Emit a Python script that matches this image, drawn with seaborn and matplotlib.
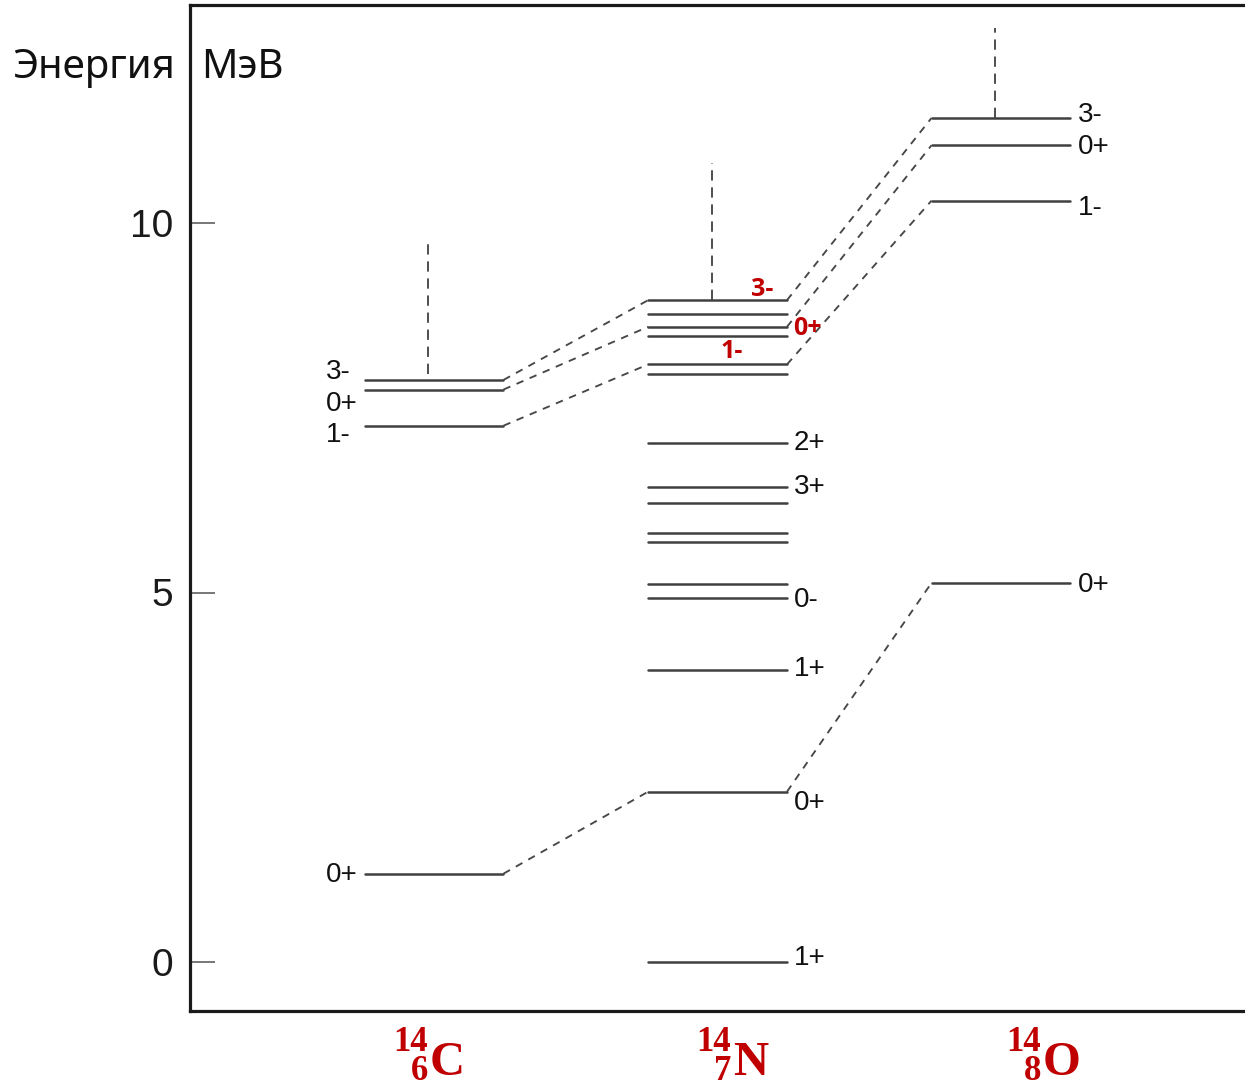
import numpy as np
import pandas as pd
import matplotlib
matplotlib.use("Agg")
import matplotlib.pyplot as plt
import seaborn as sns

# ---------------- data ----------------
nuclides = ["C", "N", "O"]
col_pos = [0.0, 1.0, 2.0]
half_width = 0.245

c_levels = [1.19, 7.26, 7.75, 7.88]
n_levels = [0.0, 2.30, 3.95, 4.92, 5.11, 5.68, 5.81, 6.21, 6.43, 7.03,
            7.96, 8.09, 8.48, 8.60, 8.77, 8.96]
o_levels = [5.13, 10.31, 11.06, 11.43]

# analog states (C -> N -> O) joined by dashed lines
analog_c = [1.19, 7.26, 7.75, 7.88]
analog_n = [2.30, 8.09, 8.60, 8.96]
analog_o = [5.13, 10.31, 11.06, 11.43]

# thresholds (vertical dashed lines): start energy, end energy
thr_start = [7.96, 8.96, 11.43]
thr_end = [9.78, 10.82, 12.65]

# spin-parity labels and the energies where they are written
c_lab = ["3-", "0+", "1-", "0+"]
c_lab_e = [7.99, 7.56, 7.14, 1.17]
n_lab = ["2+", "3+", "0-", "1+", "0+", "1+"]
n_lab_e = [7.03, 6.43, 4.90, 3.97, 2.15, 0.05]
o_lab = ["3-", "0+", "1-", "0+"]
o_lab_e = [11.47, 11.04, 10.21, 5.10]

# red highlighted labels (14N analog states)
red_lab = ["3-", "0+", "1-"]
red_lab_x = [1.157, 1.319, 1.051]
red_lab_e = [9.11, 8.58, 8.26]

yticks = [0, 5, 10]

# ---------------- style ----------------
sns.set_theme(style="white")
plt.rcParams["font.family"] = ["Liberation Sans", "DejaVu Sans"]

W, H = 1245, 1086
fig = plt.figure(figsize=(W / 100, H / 100), dpi=100)
ax = fig.add_axes([190 / W, 1 - 1011 / H, 1 - 190 / W, (1011 - 5) / H])

x_px0, px_per = 434.0, 283.5
ax.set_xlim((190 - x_px0) / px_per, (W - x_px0) / px_per)
ax.set_ylim((961.5 - 1011) / 73.8, (961.5 - 5) / 73.8)

LEVEL_C = "#404040"
DASH_C = "#474747"

# ---------------- level lines ----------------
rows = []
uid = 0
for cx, levs in zip(col_pos, [c_levels, n_levels, o_levels]):
    for e in levs:
        rows.append((cx - half_width, e, uid))
        rows.append((cx + half_width, e, uid))
        uid += 1
lev_df = pd.DataFrame(rows, columns=["x", "E", "id"])
sns.lineplot(data=lev_df, x="x", y="E", units="id", estimator=None, sort=False,
             color=LEVEL_C, linewidth=1.8, ax=ax, legend=False)

# ---------------- analog connectors ----------------
rows = []
uid = 0
for ec, en, eo in zip(analog_c, analog_n, analog_o):
    rows.append((col_pos[0] + half_width, ec, uid))
    rows.append((col_pos[1] - half_width, en, uid))
    uid += 1
    rows.append((col_pos[1] + half_width, en, uid))
    rows.append((col_pos[2] - half_width, eo, uid))
    uid += 1
con_df = pd.DataFrame(rows, columns=["x", "E", "id"])
sns.lineplot(data=con_df, x="x", y="E", units="id", estimator=None, sort=False,
             color=DASH_C, linewidth=1.35, linestyle=(0, (4, 3.6)), ax=ax, legend=False)

# ---------------- thresholds ----------------
rows = []
for i, (cx, s, e) in enumerate(zip(col_pos, thr_start, thr_end)):
    rows.append((cx - 0.02, s, i))
    rows.append((cx - 0.02, e, i))
thr_df = pd.DataFrame(rows, columns=["x", "E", "id"])
sns.lineplot(data=thr_df, x="x", y="E", units="id", estimator=None, sort=False,
             color=DASH_C, linewidth=1.35, linestyle=(0, (5.5, 3.6)), ax=ax, legend=False)

# ---------------- labels ----------------
lab_fs = 20
for t, e in zip(c_lab, c_lab_e):
    ax.text((326 - x_px0) / px_per, e, t, ha="left", va="center", fontsize=lab_fs, color="#111111")
for t, e in zip(n_lab, n_lab_e):
    ax.text(col_pos[1] + half_width + 0.025, e, t, ha="left", va="center", fontsize=lab_fs, color="#111111")
for t, e in zip(o_lab, o_lab_e):
    ax.text(col_pos[2] + half_width + 0.025, e, t, ha="left", va="center", fontsize=lab_fs, color="#111111")
for t, x, e in zip(red_lab, red_lab_x, red_lab_e):
    ax.text(x, e, t, ha="center", va="center", fontsize=18, fontweight="bold",
            color="#c00000", family=["Open Sans", "DejaVu Sans"])

# ---------------- axes ----------------
ax.set_xticks([])
ax.set_yticks(yticks)
ax.set_yticklabels([str(v) for v in yticks], fontsize=28, color="#1a1a1a")
ax.tick_params(axis="y", direction="in", length=18, width=1.4, color="#777777",
               pad=12, left=True)
ax.set_xlabel("")
ax.set_ylabel("")
for side in ["left", "top", "bottom"]:
    ax.spines[side].set_visible(True)
    ax.spines[side].set_color("#1a1a1a")
    ax.spines[side].set_linewidth(2.3)
ax.spines["right"].set_visible(False)
ax.set_facecolor("white")

# axis title
fig.text(12 / W, 1 - 68 / H, "Энергия", ha="left", va="center", fontsize=29,
         color="#111111", family=["Noto Sans", "DejaVu Sans"])
fig.text(201 / W, 1 - 68 / H, "МэВ", ha="left", va="center", fontsize=29,
         color="#111111", family=["Noto Sans", "DejaVu Sans"])

# nuclide names: mass number over charge number (one stacked text), then element
mass = "14"
charges = ["6", "7", "8"]
script_right = [428, 731, 1041]
red = "#c00000"
serif = ["Liberation Serif", "DejaVu Serif"]
for el, z, xr in zip(nuclides, charges, script_right):
    fig.text(xr / W, 1 - 1057 / H, mass + "\n" + z, ha="right", va="center",
             multialignment="right", linespacing=0.82, fontsize=25,
             fontweight="bold", color=red, family=serif)
    fig.text((xr + 2) / W, 1 - 1075 / H, el, ha="left", va="baseline", fontsize=35,
             fontweight="bold", color=red, family=serif)

fig.savefig("out.png", dpi=100, facecolor="white")
